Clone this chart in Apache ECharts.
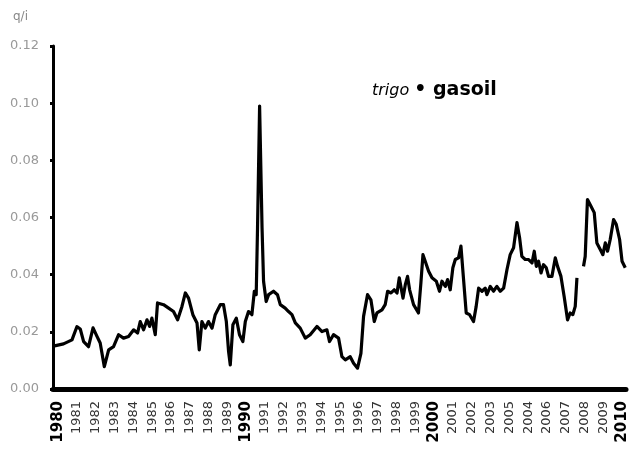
<!DOCTYPE html>
<html>
<head>
<meta charset="utf-8">
<script src="https://cdn.jsdelivr.net/npm/echarts@6/dist/echarts.min.js"></script>
<style>html,body{margin:0;padding:0;background:#fff}#c{width:636px;height:450px}</style>
</head>
<body>
<div id="c"></div>
<script>
// Time in years (decimal) and ratio values (q/i); null marks the gap in 2007-2008
var years = [
1979.8,1980.28,1980.73,1980.99,1981.17,1981.35,1981.61,1981.85,1982.06,1982.23,1982.45,1982.68,1982.94,
1983.21,1983.47,1983.74,1984.01,1984.22,1984.36,1984.54,1984.72,1984.86,1984.98,1985.16,1985.28,1985.60,
1985.87,1986.13,1986.35,1986.58,1986.76,1986.93,1987.16,1987.38,1987.50,1987.64,1987.82,1987.99,1988.18,
1988.35,1988.62,1988.79,1988.94,1989.06,1989.15,1989.29,1989.47,1989.64,1989.82,1989.95,1990.12,1990.30,
1990.43,1990.53,1990.60,1990.71,1990.84,1990.92,1991.06,1991.19,1991.45,1991.66,1991.81,1992.07,1992.25,
1992.43,1992.61,1992.87,1993.14,1993.40,1993.76,1994.03,1994.29,1994.43,1994.64,1994.91,1995.09,1995.27,
1995.53,1995.71,1995.92,1996.10,1996.24,1996.45,1996.63,1996.81,1996.95,1997.22,1997.39,1997.52,1997.70,
1997.87,1998.02,1998.14,1998.24,1998.34,1998.46,1998.58,1998.69,1998.90,1999.16,1999.29,1999.40,1999.52,
1999.70,1999.88,2000.11,2000.28,2000.41,2000.59,2000.71,2000.85,2000.99,2001.12,2001.29,2001.42,2001.56,
2001.70,2001.88,2002.09,2002.23,2002.36,2002.54,2002.71,2002.80,2002.98,2003.15,2003.33,2003.51,2003.69,
2003.87,2004.04,2004.22,2004.40,2004.54,2004.66,2004.84,2005.02,2005.20,2005.32,2005.43,2005.55,2005.68,
2005.81,2005.96,2006.08,2006.26,2006.44,2006.56,2006.74,2006.91,2007.09,2007.23,2007.37,2007.50,2007.59,
2007.75,
2007.94,2008.03,2008.15,2008.33,2008.51,2008.65,2008.83,2008.97,2009.10,2009.22,2009.36,2009.54,2009.68,
2009.86,2009.99,2010.16
];
var values = [
0.0151,0.0158,0.0172,0.0218,0.0210,0.0166,0.0148,0.0214,0.0184,0.0161,0.0078,0.0137,0.0148,
0.0190,0.0178,0.0184,0.0207,0.0196,0.0236,0.0207,0.0242,0.0219,0.0248,0.0190,0.0301,0.0295,
0.0283,0.0271,0.0242,0.0289,0.0336,0.0318,0.0260,0.0231,0.0137,0.0236,0.0213,0.0236,0.0213,
0.0260,0.0295,0.0295,0.0236,0.0131,0.0084,0.0225,0.0248,0.0190,0.0166,0.0236,0.0271,0.0260,
0.0342,0.0330,0.0564,0.0990,0.0564,0.0377,0.0306,0.0330,0.0342,0.0330,0.0295,0.0283,0.0271,
0.0260,0.0231,0.0213,0.0178,0.0190,0.0219,0.0201,0.0207,0.0166,0.0190,0.0178,0.0113,0.0102,
0.0113,0.0090,0.0073,0.0125,0.0254,0.0330,0.0312,0.0236,0.0266,0.0277,0.0295,0.0342,0.0336,
0.0347,0.0336,0.0389,0.0353,0.0318,0.0365,0.0394,0.0347,0.0295,0.0266,0.0371,0.0470,0.0447,
0.0412,0.0389,0.0377,0.0342,0.0377,0.0359,0.0383,0.0347,0.0424,0.0453,0.0459,0.0500,0.0383,
0.0266,0.0260,0.0236,0.0289,0.0353,0.0342,0.0353,0.0330,0.0359,0.0342,0.0359,0.0342,0.0353,
0.0418,0.0470,0.0494,0.0582,0.0529,0.0464,0.0453,0.0453,0.0441,0.0482,0.0429,0.0447,0.0406,
0.0435,0.0424,0.0394,0.0394,0.0459,0.0429,0.0394,0.0324,0.0242,0.0266,0.0260,0.0289,0.0389,
null,
0.0429,0.0464,0.0663,0.0640,0.0617,0.0511,0.0488,0.0470,0.0511,0.0482,0.0523,0.0593,0.0576,
0.0523,0.0447,0.0424
];
// x-axis tick labels, as printed (note 2005 before 2004 in the original)
var tickYears = [1980,1981,1982,1983,1984,1985,1986,1987,1988,1989,1990,1991,1992,1993,1994,1995,1996,1997,1998,1999,2000,2001,2002,2003,2004,2005,2006,2007,2008,2009,2010];
var tickLabels = ['1980','1981','1982','1983','1984','1985','1986','1987','1988','1989','1990','1991','1992','1993','1994','1995','1996','1997','1998','1999','2000','2001','2002','2003','2005','2004','2006','2007','2008','2009','2010'];
var boldLabels = ['1980','1990','2000','2010'];

var data = years.map(function (y, i) { return [y, values[i] === null ? '-' : values[i]]; });

var chart = echarts.init(document.getElementById('c'), null, {renderer: 'canvas'});
chart.setOption({
  animation: false,
  backgroundColor: '#fff',
  title: {
    text: '{a|trigo} {b|• gasoil}',
    left: 367, top: 76,
    textStyle: {
      fontWeight: 'normal',
      rich: {
        a: {fontFamily: 'DejaVu Sans', fontStyle: 'italic', fontWeight: 'normal', fontSize: 16, color: '#000'},
        b: {fontFamily: 'DejaVu Sans', fontWeight: 'bold', fontSize: 19, color: '#000'}
      }
    }
  },
  graphic: [{
    type: 'text', left: 13, top: 11,
    style: {text: 'q/i', fontFamily: 'DejaVu Sans', fontSize: 12, fill: '#888'}
  }],
  grid: {left: 53, right: 10, top: 46, bottom: 61, containLabel: false},
  xAxis: {
    type: 'value', min: 1979.72, max: 2010.2,
    splitLine: {show: false},
    axisTick: {show: false},
    axisLine: {show: true, onZero: false, lineStyle: {color: '#000', width: 5}},
    axisLabel: {
      customValues: tickYears,
      rotate: 90, margin: 12,
      fontFamily: 'DejaVu Sans', fontSize: 13, color: '#333',
      formatter: function (v) {
        var i = tickYears.indexOf(Math.round(v));
        var t = i >= 0 ? tickLabels[i] : '';
        return boldLabels.indexOf(t) >= 0 ? '{b|' + t + '}' : t;
      },
      rich: {b: {fontFamily: 'DejaVu Sans', fontWeight: 'bold', fontSize: 15, color: '#000'}}
    }
  },
  yAxis: {
    type: 'value', min: 0, max: 0.12, interval: 0.02,
    splitLine: {show: false},
    axisLine: {show: true, lineStyle: {color: '#000', width: 3}},
    axisTick: {show: true, length: 3, lineStyle: {color: '#000', width: 3}},
    axisLabel: {
      margin: 14, fontFamily: 'DejaVu Sans', fontSize: 13, color: '#999',
      formatter: function (v) { return v.toFixed(2); }
    }
  },
  series: [{
    type: 'line', data: data, symbol: 'none', connectNulls: false,
    lineStyle: {color: '#000', width: 3.2, join: 'round'}
  }]
});
</script>
</body>
</html>
